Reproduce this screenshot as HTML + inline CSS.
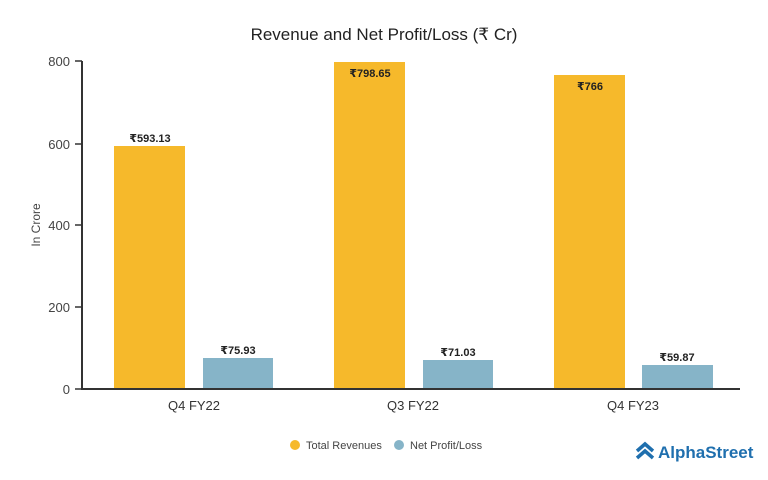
<!DOCTYPE html>
<html><head><meta charset="utf-8"><style>body{margin:0;background:#fff}svg{display:block}text{font-family:"Liberation Sans","DejaVu Sans",sans-serif}</style></head><body>
<svg width="768" height="480" viewBox="0 0 768 480">
<rect width="768" height="480" fill="#fff"/>
<text x="384" y="40" text-anchor="middle" font-size="17" fill="#222">Revenue and Net Profit/Loss (₹ Cr)</text>
<g fill="#f6b92b">
<rect x="114" y="146" width="71" height="243"/>
<rect x="334" y="62" width="71" height="327"/>
<rect x="554" y="75" width="71" height="314"/>
</g>
<g fill="#86b4c8">
<rect x="203" y="358" width="70" height="31"/>
<rect x="423" y="360" width="70" height="29"/>
<rect x="642" y="365" width="71" height="24"/>
</g>
<g font-size="11" font-weight="bold" fill="#222" text-anchor="middle">
<text x="150" y="142">₹593.13</text>
<text x="370" y="77">₹798.65</text>
<text x="590" y="90">₹766</text>
<text x="238" y="354">₹75.93</text>
<text x="458" y="356">₹71.03</text>
<text x="677" y="361">₹59.87</text>
</g>
<g stroke="#333" stroke-width="2" fill="none">
<line x1="82" y1="61" x2="82" y2="390"/>
<line x1="82" y1="389" x2="740" y2="389"/>
</g>
<g stroke="#333" stroke-width="1.5">
<line x1="75" y1="61" x2="82" y2="61"/><line x1="75" y1="144" x2="82" y2="144"/><line x1="75" y1="225" x2="82" y2="225"/><line x1="75" y1="307" x2="82" y2="307"/><line x1="75" y1="389" x2="82" y2="389"/>
</g>
<g font-size="13" fill="#444" text-anchor="end">
<text x="70" y="66">800</text><text x="70" y="149">600</text><text x="70" y="230">400</text><text x="70" y="312">200</text><text x="70" y="394">0</text>
</g>
<text transform="translate(40,225) rotate(-90)" text-anchor="middle" font-size="12" fill="#444">In Crore</text>
<g font-size="13" fill="#333" text-anchor="middle">
<text x="194" y="410">Q4 FY22</text><text x="413" y="410">Q3 FY22</text><text x="633" y="410">Q4 FY23</text>
</g>
<circle cx="295" cy="445" r="5" fill="#f6b92b"/>
<text x="306" y="449" font-size="11" fill="#444">Total Revenues</text>
<circle cx="399" cy="445" r="5" fill="#86b4c8"/>
<text x="410" y="449" font-size="11" fill="#444">Net Profit/Loss</text>
<g fill="none" stroke="#1f6fae" stroke-width="3.5" stroke-linejoin="miter">
<polyline points="637,451 645,444 653,451"/>
<polyline points="637,458 645,451 653,458"/>
</g>
<text x="658" y="458" font-size="17" font-weight="bold" fill="#1f6fae">AlphaStreet</text>
</svg>
</body></html>
